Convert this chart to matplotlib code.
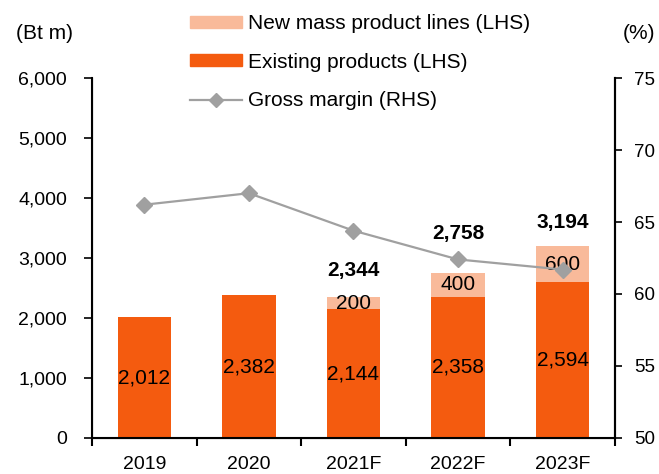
import matplotlib.pyplot as plt
import numpy as np
from matplotlib.patches import Patch
from matplotlib.lines import Line2D

plt.rcParams['font.family'] = ['Liberation Sans', 'DejaVu Sans']
plt.rcParams['font.size'] = 14

years = ["2019", "2020", "2021F", "2022F", "2023F"]
existing = [2012, 2382, 2144, 2358, 2594]
new_lines = [0, 0, 200, 400, 600]
margin = [66.2, 67.0, 64.4, 62.4, 61.7]

c_exist = "#F45B0F"
c_new = "#F9BA9A"
c_line = "#A0A0A0"

fig = plt.figure(figsize=(6.59, 4.74), dpi=100)
ax = fig.add_axes([0.1396, 0.076, 0.7934, 0.7594])
x = np.arange(len(years))

ax.bar(x, existing, width=0.51, color=c_exist)
ax.bar(x, new_lines, width=0.51, bottom=existing, color=c_new)

# total labels are nudged by hand in the source to dodge the margin line
total_gap = [0, 0, 450, 650, 400]
for i in range(len(years)):
    ax.text(x[i], existing[i] / 2, f"{existing[i]:,}", ha="center", va="center", fontsize=15)
    if new_lines[i] > 0:
        ax.text(x[i], existing[i] + new_lines[i] / 2, f"{new_lines[i]:,}", ha="center", va="center", fontsize=15)
        tot = existing[i] + new_lines[i]
        ax.text(x[i], tot + total_gap[i], f"{tot:,}", ha="center", va="center", fontsize=15, fontweight="bold")

ax.set_xlim(-0.5, 4.5)
ax.set_ylim(0, 6000)
ax.set_yticks(range(0, 6001, 1000))
ax.set_yticklabels([f"{v:,}" for v in range(0, 6001, 1000)])
ax.set_xticks(x)
ax.set_xticklabels(years)
ax.set_xticks(np.arange(-0.5, 5, 1), minor=True)
ax.tick_params(axis="x", which="major", length=0, pad=13)
ax.tick_params(axis="x", which="minor", length=6, width=1.5, direction="out")
ax.tick_params(axis="y", length=6, width=1.2, direction="out", pad=12)
ax.spines["top"].set_visible(False)
for s in ["left", "bottom", "right"]:
    ax.spines[s].set_linewidth(1.5)

ax2 = ax.twinx()
ax2.plot(x, margin, color=c_line, lw=1.6, marker="D", ms=8)
ax2.set_ylim(50, 75)
ax2.set_yticks(range(50, 76, 5))
ax2.tick_params(axis="y", length=5, width=1.2, direction="out", pad=9, labelsize=13.5)
ax2.spines["top"].set_visible(False)
ax2.spines["right"].set_linewidth(1.5)

fig.text(0.024, 0.93, "(Bt m)", fontsize=15, va="center")
fig.text(0.945, 0.93, "(%)", fontsize=15, va="center")

handles = [
    Patch(color=c_new),
    Patch(color=c_exist),
    Line2D([], [], color=c_line, lw=1.6, marker="D", ms=7),
]
labels = ["New mass product lines (LHS)", "Existing products (LHS)", "Gross margin (RHS)"]
fig.legend(handles, labels, loc="upper left", bbox_to_anchor=(0.26, 1.01), frameon=False,
           handlelength=2.5, handleheight=0.5, labelspacing=0.94, handletextpad=0.3, fontsize=15)

fig.savefig("out.png", dpi=100)
